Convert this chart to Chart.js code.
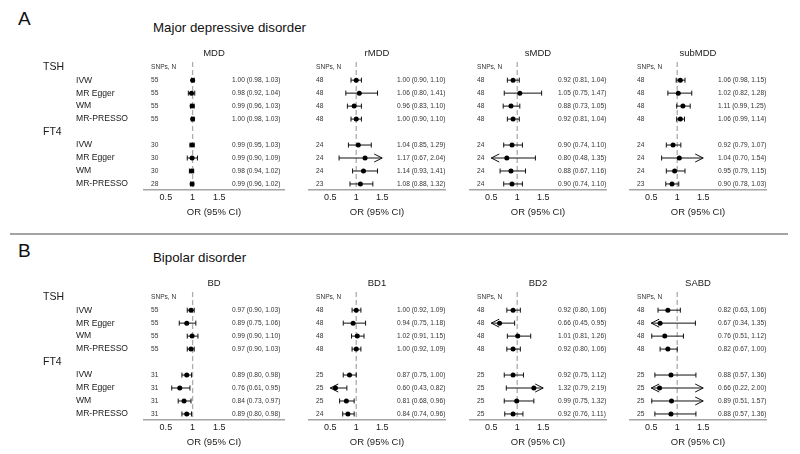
<!DOCTYPE html>
<html>
<head>
<meta charset="utf-8">
<script src="https://cdn.jsdelivr.net/npm/chart.js@4.4.0/dist/chart.umd.min.js"></script>
<style>
    body { margin: 0; background: #fff; font-family: 'Liberation Sans', Arial, sans-serif; }
    #wrap { position: relative; width: 800px; height: 454px; overflow: hidden; background: #fff; }
    canvas { position: absolute; }
    .letter { position: absolute; font-size: 19px; line-height: 19px; color: #111; }
    .title { position: absolute; font-size: 13.3px; line-height: 13px; color: #111; white-space: nowrap; }
    .sep { position: absolute; left: 10px; top: 233px; width: 778px; height: 2px; background: #a4a4a4; }
</style>
</head>
<body>
<div id="wrap">
    <div class="letter" style="left:18px; top:9px;">A</div>
    <div class="title" style="left:153px; top:21px;">Major depressive disorder</div>
    <div class="sep"></div>
    <div class="letter" style="left:18px; top:241px;">B</div>
    <div class="title" style="left:153px; top:251px;">Bipolar disorder</div>
</div>
<script>
const methods = ['IVW', 'MR Egger', 'WM', 'MR-PRESSO'];
const exposures = ['TSH', 'FT4'];
const tickValues = [0.5, 1, 1.5];
const plotLimits = [0.5, 1.5];

// A - Major depressive disorder (rows: TSH x4 methods, FT4 x4 methods)
const outcomesA = ['MDD', 'rMDD', 'sMDD', 'subMDD'];
const snpsMDD = [55, 55, 55, 55, 30, 30, 30, 28];
const orMDD = [1.00, 0.98, 0.99, 1.00, 0.99, 0.99, 0.98, 0.99];
const loMDD = [0.98, 0.92, 0.96, 0.98, 0.95, 0.90, 0.94, 0.96];
const hiMDD = [1.03, 1.04, 1.03, 1.03, 1.03, 1.09, 1.02, 1.02];

const snpsRMDD = [48, 48, 48, 48, 24, 24, 24, 23];
const orRMDD = [1.00, 1.06, 0.96, 1.00, 1.04, 1.17, 1.14, 1.08];
const loRMDD = [0.90, 0.80, 0.83, 0.90, 0.85, 0.67, 0.93, 0.88];
const hiRMDD = [1.10, 1.41, 1.10, 1.10, 1.29, 2.04, 1.41, 1.32];

const snpsSMDD = [48, 48, 48, 48, 24, 24, 24, 24];
const orSMDD = [0.92, 1.05, 0.88, 0.92, 0.90, 0.80, 0.88, 0.90];
const loSMDD = [0.81, 0.75, 0.73, 0.81, 0.74, 0.48, 0.67, 0.74];
const hiSMDD = [1.04, 1.47, 1.05, 1.04, 1.10, 1.35, 1.16, 1.10];

const snpsSubMDD = [48, 48, 48, 48, 24, 24, 24, 23];
const orSubMDD = [1.06, 1.02, 1.11, 1.06, 0.92, 1.04, 0.95, 0.90];
const loSubMDD = [0.98, 0.82, 0.99, 0.99, 0.79, 0.70, 0.79, 0.78];
const hiSubMDD = [1.15, 1.28, 1.25, 1.14, 1.07, 1.54, 1.15, 1.03];

// B - Bipolar disorder
const outcomesB = ['BD', 'BD1', 'BD2', 'SABD'];
const snpsBD = [55, 55, 55, 55, 31, 31, 31, 31];
const orBD = [0.97, 0.89, 0.99, 0.97, 0.89, 0.76, 0.84, 0.89];
const loBD = [0.90, 0.75, 0.90, 0.90, 0.80, 0.61, 0.73, 0.80];
const hiBD = [1.03, 1.06, 1.10, 1.03, 0.98, 0.95, 0.97, 0.98];

const snpsBD1 = [48, 48, 48, 48, 25, 25, 25, 24];
const orBD1 = [1.00, 0.94, 1.02, 1.00, 0.87, 0.60, 0.81, 0.84];
const loBD1 = [0.92, 0.75, 0.91, 0.92, 0.75, 0.43, 0.68, 0.74];
const hiBD1 = [1.09, 1.18, 1.15, 1.09, 1.00, 0.82, 0.96, 0.96];

const snpsBD2 = [48, 48, 48, 48, 25, 25, 25, 25];
const orBD2 = [0.92, 0.66, 1.01, 0.92, 0.92, 1.32, 0.99, 0.92];
const loBD2 = [0.80, 0.45, 0.81, 0.80, 0.75, 0.79, 0.75, 0.76];
const hiBD2 = [1.06, 0.95, 1.26, 1.06, 1.12, 2.19, 1.32, 1.11];

const snpsSABD = [48, 48, 48, 48, 25, 25, 25, 25];
const orSABD = [0.82, 0.67, 0.76, 0.82, 0.88, 0.66, 0.89, 0.88];
const loSABD = [0.63, 0.34, 0.51, 0.67, 0.57, 0.22, 0.51, 0.57];
const hiSABD = [1.06, 1.35, 1.12, 1.00, 1.36, 2.00, 1.57, 1.36];

// row index of each estimate (0 = TSH header row, 5 = FT4 header row)
const rows = [1, 2, 3, 4, 6, 7, 8, 9];

Chart.defaults.font.family = "'Liberation Sans', Arial, sans-serif";

const panelLeft = [144, 305, 466, 626];
const panelWidth = 144;
const unit = 55; // pixels per OR unit
const xMin = 1 - 50 / unit;
const xMax = xMin + panelWidth / unit;

function forestPlugin(name, snps, or, lo, hi, first) {
    return {
        id: 'forest',
        beforeDatasetsDraw(chart) {
            const ctx = chart.ctx, xs = chart.scales.x, ys = chart.scales.y, area = chart.chartArea;
            ctx.save();
            // dashed reference line at OR = 1
            const x1 = xs.getPixelForValue(1);
            ctx.strokeStyle = '#acacac';
            ctx.lineWidth = 1.3;
            ctx.setLineDash([5, 3]);
            ctx.beginPath();
            ctx.moveTo(x1, area.top);
            ctx.lineTo(x1, area.bottom);
            ctx.stroke();
            ctx.setLineDash([]);

            // confidence intervals
            ctx.strokeStyle = '#111';
            ctx.lineWidth = 1;
            for (let i = 0; i < or.length; i++) {
                const y = ys.getPixelForValue(rows[i]);
                const a = Math.max(lo[i], plotLimits[0]);
                const b = Math.min(hi[i], plotLimits[1]);
                const xa = xs.getPixelForValue(a);
                const xb = xs.getPixelForValue(b);
                ctx.beginPath();
                ctx.moveTo(xa, y);
                ctx.lineTo(xb, y);
                if (lo[i] < plotLimits[0]) {
                    ctx.moveTo(xa + 8, y - 4);
                    ctx.lineTo(xa, y);
                    ctx.lineTo(xa + 8, y + 4);
                } else {
                    ctx.moveTo(xa, y - 2.5);
                    ctx.lineTo(xa, y + 2.5);
                }
                if (hi[i] > plotLimits[1]) {
                    ctx.moveTo(xb - 8, y - 4);
                    ctx.lineTo(xb, y);
                    ctx.lineTo(xb - 8, y + 4);
                } else {
                    ctx.moveTo(xb, y - 2.5);
                    ctx.lineTo(xb, y + 2.5);
                }
                ctx.stroke();
            }
            ctx.restore();
        },
        afterDraw(chart) {
            const ctx = chart.ctx, ys = chart.scales.y, area = chart.chartArea;
            ctx.save();
            ctx.textBaseline = 'middle';

            // outcome header
            ctx.fillStyle = '#1a1a1a';
            ctx.textAlign = 'center';
            ctx.font = "9.5px 'Liberation Sans', Arial, sans-serif";
            ctx.fillText(name, (area.left + area.right) / 2, area.top - 9);

            // SNP counts and estimates
            ctx.textAlign = 'left';
            ctx.fillStyle = '#333';
            ctx.font = "6.6px 'Liberation Sans', Arial, sans-serif";
            ctx.fillText('SNPs, N', area.left + 7, ys.getPixelForValue(0));
            for (let i = 0; i < or.length; i++) {
                const y = ys.getPixelForValue(rows[i]);
                ctx.fillText(String(snps[i]), area.left + 7, y);
                const txt = or[i].toFixed(2) + ' (' + lo[i].toFixed(2) + ', ' + hi[i].toFixed(2) + ')';
                ctx.fillText(txt, area.left + 88, y);
            }

            // row labels, only next to the first panel
            if (first) {
                ctx.fillStyle = '#1a1a1a';
                for (let e = 0; e < exposures.length; e++) {
                    ctx.font = "10.5px 'Liberation Sans', Arial, sans-serif";
                    ctx.fillText(exposures[e], area.left - 101, ys.getPixelForValue(e * 5));
                    ctx.font = "8.6px 'Liberation Sans', Arial, sans-serif";
                    for (let m = 0; m < methods.length; m++) {
                        ctx.fillText(methods[m], area.left - 68, ys.getPixelForValue(e * 5 + m + 1));
                    }
                }
            }
            ctx.restore();
        }
    };
}

function makePanel(top, idx, name, snps, or, lo, hi) {
    const first = idx === 0;
    const canvas = document.createElement('canvas');
    const left = first ? 0 : panelLeft[idx];
    const width = first ? panelLeft[0] + panelWidth : panelWidth;
    canvas.width = width;
    canvas.height = 177;
    canvas.style.left = left + 'px';
    canvas.style.top = top + 'px';
    document.getElementById('wrap').appendChild(canvas);

    new Chart(canvas, {
        type: 'scatter',
        data: {
            datasets: [{
                data: or.map((v, i) => ({ x: v, y: rows[i] })),
                pointRadius: 2.5,
                pointBackgroundColor: '#000',
                pointBorderWidth: 0
            }]
        },
        options: {
            responsive: false,
            animation: false,
            layout: { padding: { left: first ? panelLeft[0] : 0, right: 0, top: 18, bottom: 3 } },
            plugins: { legend: { display: false }, tooltip: { enabled: false } },
            scales: {
                x: {
                    type: 'linear',
                    min: xMin,
                    max: xMax,
                    afterBuildTicks: (axis) => { axis.ticks = tickValues.map(v => ({ value: v })); },
                    ticks: {
                        color: '#1a1a1a',
                        padding: 2,
                        font: { size: 9 },
                        callback: (v) => String(v)
                    },
                    grid: { display: false, drawTicks: false },
                    border: { display: true, color: '#a4a4a4', width: 1.6 },
                    title: {
                        display: true,
                        text: 'OR (95% CI)',
                        color: '#1a1a1a',
                        font: { size: 9.5 },
                        padding: { top: 2, bottom: 0 }
                    }
                },
                y: { display: false, min: -0.4, max: 9.45, reverse: true }
            }
        },
        plugins: [forestPlugin(name, snps, or, lo, hi, first)]
    });
}

makePanel(44, 0, outcomesA[0], snpsMDD, orMDD, loMDD, hiMDD);
makePanel(44, 1, outcomesA[1], snpsRMDD, orRMDD, loRMDD, hiRMDD);
makePanel(44, 2, outcomesA[2], snpsSMDD, orSMDD, loSMDD, hiSMDD);
makePanel(44, 3, outcomesA[3], snpsSubMDD, orSubMDD, loSubMDD, hiSubMDD);

makePanel(274, 0, outcomesB[0], snpsBD, orBD, loBD, hiBD);
makePanel(274, 1, outcomesB[1], snpsBD1, orBD1, loBD1, hiBD1);
makePanel(274, 2, outcomesB[2], snpsBD2, orBD2, loBD2, hiBD2);
makePanel(274, 3, outcomesB[3], snpsSABD, orSABD, loSABD, hiSABD);
</script>
</body>
</html>
